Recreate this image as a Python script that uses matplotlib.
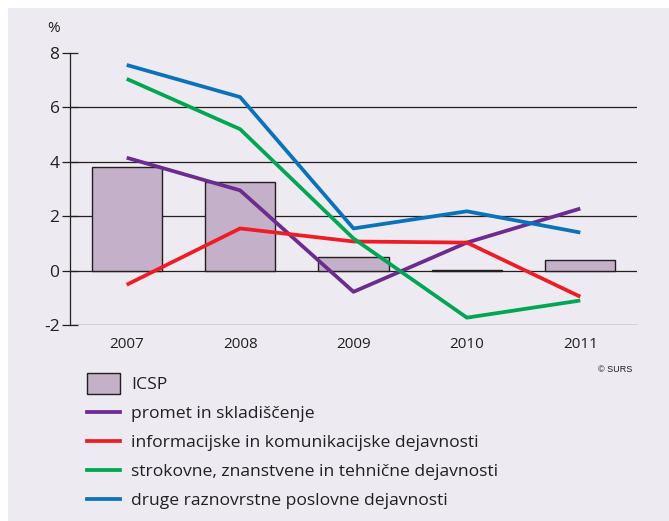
import numpy as np
import matplotlib.pyplot as plt
from matplotlib.patches import Rectangle, Patch
from matplotlib.lines import Line2D
from matplotlib.legend_handler import HandlerPatch

years = ['2007', '2008', '2009', '2010', '2011']
icsp = [3.8, 3.25, 0.5, 0.02, 0.38]
promet = [4.15, 2.95, -0.78, 1.03, 2.28]
informacijske = [-0.52, 1.55, 1.07, 1.03, -0.96]
strokovne = [7.05, 5.2, 1.18, -1.73, -1.1]
druge = [7.56, 6.38, 1.55, 2.18, 1.4]

labels = ['ICSP',
          'promet in skladiščenje',
          'informacijske in komunikacijske dejavnosti',
          'strokovne, znanstvene in tehnične dejavnosti',
          'druge raznovrstne poslovne dejavnosti']

bg = '#eeeaf1'
plt.rcParams['font.family'] = ['Open Sans', 'DejaVu Sans']

fig = plt.figure(figsize=(6.69, 5.21), dpi=100, facecolor=bg)
W, H = 669, 521
# white margin top and left
fig.add_artist(Rectangle((0, 1 - 8 / H), 1, 8 / H, transform=fig.transFigure,
                         facecolor='white', edgecolor='none', zorder=0))
fig.add_artist(Rectangle((0, 0), 8 / W, 1, transform=fig.transFigure,
                         facecolor='white', edgecolor='none', zorder=0))

ax = fig.add_axes([70 / W, 1 - 325 / H, (637 - 70) / W, (325 - 53) / H])
ax.set_facecolor('none')

x = np.arange(len(years))
ax.bar(x, icsp, width=0.62, color='#c4b0c9', edgecolor='#231f20', linewidth=1.0, zorder=2)

for yv in [-2, 0, 2, 4, 6]:
    ax.axhline(yv, color='#231f20', lw=0.9, zorder=1)

ax.plot(x, promet, color='#6b2c8f', lw=2.7, zorder=3, solid_capstyle='butt')
ax.plot(x, informacijske, color='#ee1d25', lw=2.7, zorder=3, solid_capstyle='butt')
ax.plot(x, strokovne, color='#00a651', lw=2.7, zorder=3, solid_capstyle='butt')
ax.plot(x, druge, color='#0a72bb', lw=2.7, zorder=3, solid_capstyle='butt')

ax.set_xlim(-0.5, 4.5)
ax.set_ylim(-2, 8)
ax.set_yticks([-2, 0, 2, 4, 6, 8])
ax.set_yticklabels(['-2', '0', '2', '4', '6', '8'])
ax.set_xticks(x)
ax.set_xticklabels(years)
for s in ['top', 'right', 'bottom']:
    ax.spines[s].set_visible(False)
ax.spines['left'].set_color('#231f20')
ax.spines['left'].set_linewidth(0.9)
ax.tick_params(axis='y', direction='inout', length=11, width=0.9, color='#231f20',
               labelsize=12.5, pad=2, labelcolor='#231f20')
ax.tick_params(axis='x', length=0, labelsize=11, pad=9, labelcolor='#231f20')

fig.text(54 / W, 1 - 28 / H, '%', ha='center', va='center', fontsize=11, color='#231f20')
fig.text(615 / W, 1 - 370 / H, '© SURS', ha='center', va='center', fontsize=6.5,
         family='Liberation Sans', color='#231f20')


class TallPatch(HandlerPatch):
    def create_artists(self, legend, orig_handle, xdescent, ydescent, width, height,
                       fontsize, trans):
        r = Rectangle((-xdescent, -ydescent - height * 0.35), width, height * 1.7,
                      facecolor=orig_handle.get_facecolor(), edgecolor='#231f20', lw=1.0,
                      transform=trans)
        return [r]


handles = [Patch(facecolor='#c4b0c9', edgecolor='#231f20'),
           Line2D([], [], color='#6b2c8f', lw=2.7),
           Line2D([], [], color='#ee1d25', lw=2.7),
           Line2D([], [], color='#00a651', lw=2.7),
           Line2D([], [], color='#0a72bb', lw=2.7)]
leg = fig.legend(handles, labels, loc='upper left', bbox_to_anchor=(87 / W, 1 - 377 / H),
                 frameon=False, fontsize=12.6, borderpad=0, borderaxespad=0,
                 handlelength=1.9, handletextpad=0.62, labelspacing=0.72,
                 handler_map={Patch: TallPatch()})
for t in leg.get_texts():
    t.set_color('#231f20')

fig.savefig('out.png', dpi=100, facecolor=bg)
